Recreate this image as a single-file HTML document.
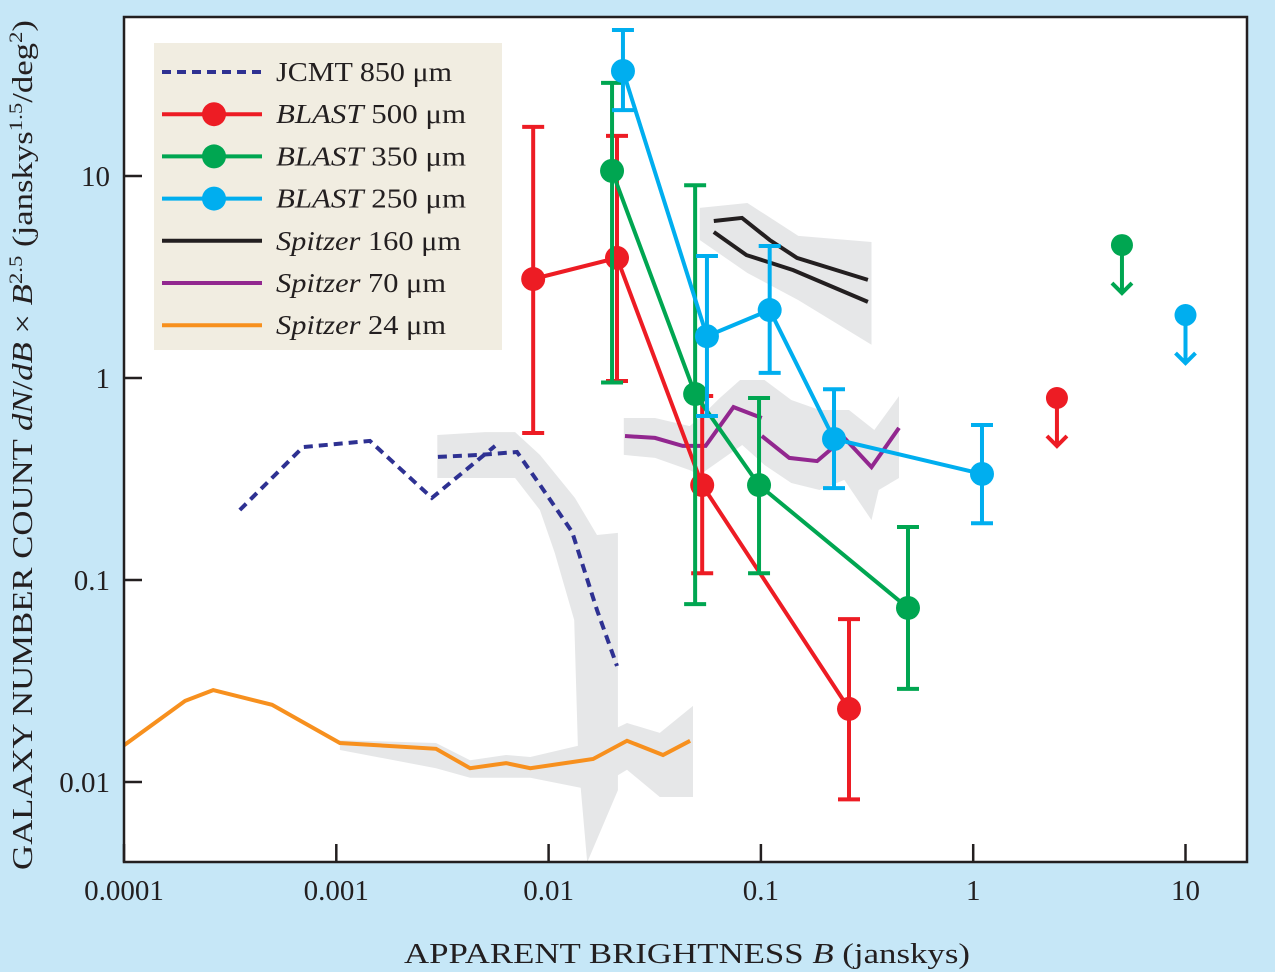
<!DOCTYPE html>
<html><head><meta charset="utf-8"><style>
html,body{margin:0;padding:0;background:#c6e7f7;}
svg{display:block;font-family:"Liberation Serif",serif;}
</style></head><body>
<svg id="chart" width="1275" height="972" viewBox="0 0 1275 972" xmlns="http://www.w3.org/2000/svg">
<rect x="0" y="0" width="1275" height="972" fill="#c6e7f7"/>
<rect x="124" y="17" width="1123" height="845" fill="#ffffff"/>
<g id="bands"></g><g id="lines"></g><g id="marks"></g>
<rect x="124" y="17" width="1123" height="845" fill="none" stroke="#231f20" stroke-width="2.5"/>
<g id="ticks"></g>
<g id="legend"></g>
<text x="404" y="963" font-size="29" textLength="566" lengthAdjust="spacingAndGlyphs" fill="#231f20">APPARENT BRIGHTNESS <tspan font-style="italic">B</tspan> (janskys)</text>
<text transform="translate(32,870) rotate(-90)" font-size="29" textLength="850" lengthAdjust="spacingAndGlyphs" fill="#231f20">GALAXY NUMBER COUNT <tspan font-style="italic">dN</tspan>/<tspan font-style="italic">dB</tspan> × <tspan font-style="italic">B</tspan><tspan dy="-10" font-size="19">2.5</tspan><tspan dy="10"> (janskys</tspan><tspan dy="-10" font-size="19">1.5</tspan><tspan dy="10">/deg</tspan><tspan dy="-10" font-size="19">2</tspan><tspan dy="10">)</tspan></text>
</svg>
<script>
const xTicks=[0.0001,0.001,0.01,0.1,1,10];
const xTickLabels=["0.0001","0.001","0.01","0.1","1","10"];
const yTicks=[0.01,0.1,1,10];
const yTickLabels=["0.01","0.1","1","10"];

const b500X=[0.00846,0.0210,0.0529,0.260];
const b500Y=[3.09,3.93,0.295,0.023];
const b500Hi=[17.5,15.8,0.814,0.064];
const b500Lo=[0.534,0.966,0.108,0.0082];
const b350X=[0.0199,0.049,0.098,0.493];
const b350Y=[10.6,0.833,0.295,0.0727];
const b350Hi=[28.9,9.0,0.796,0.183];
const b350Lo=[0.95,0.076,0.108,0.0289];
const b250X=[0.0224,0.0557,0.110,0.221,1.10];
const b250Y=[33.1,1.61,2.17,0.499,0.335];
const b250Hi=[52.8,4.02,4.5,0.88,0.585];
const b250Lo=[21.2,0.648,1.06,0.285,0.191];
const limitX=[2.48,5.02,10.0];
const limitY=[0.796,4.55,2.05];

const jcmtAX=[0.000351,0.000697,0.00144,0.00282,0.00560];
const jcmtAY=[0.222,0.455,0.488,0.255,0.461];
const jcmtBX=[0.00301,0.00475,0.00710,0.00912,0.0129,0.0169,0.0210];
const jcmtBY=[0.407,0.416,0.430,0.295,0.173,0.071,0.0375];
const s160AX=[0.060,0.0815,0.110,0.148,0.319];
const s160AY=[5.99,6.2,4.82,3.93,3.06];
const s160BX=[0.060,0.0855,0.142,0.319];
const s160BY=[5.28,4.06,3.42,2.38];
const s70AX=[0.0229,0.0317,0.0428,0.0549,0.0743,0.101];
const s70AY=[0.516,0.505,0.461,0.461,0.718,0.634];
const s70BX=[0.101,0.136,0.184,0.247,0.332,0.447];
const s70BY=[0.516,0.402,0.388,0.505,0.362,0.566];
const s24X=[0.0001,0.000194,0.000263,0.000498,0.00104,0.00295,0.00427,0.0063,0.0082,0.0162,0.0234,0.0346,0.0464];
const s24Y=[0.0152,0.0252,0.0285,0.0241,0.0156,0.0146,0.0117,0.0124,0.0117,0.0130,0.0160,0.0136,0.0160];

const bandJX=[0.00299,0.00501,0.00695,0.0091,0.0133,0.0169,0.0212,0.0212,0.0152,0.0138,0.0132,0.0107,0.0091,0.00695,0.00299];
const bandJY=[0.522,0.540,0.540,0.416,0.255,0.167,0.171,0.0091,0.0040,0.0128,0.0634,0.136,0.222,0.320,0.320];
const band24X=[0.00104,0.00295,0.00427,0.0063,0.0082,0.0141,0.0234,0.0334,0.0479,0.0479,0.0334,0.0234,0.0212,0.0162,0.0082,0.00427,0.00295,0.00104];
const band24Y=[0.0161,0.0156,0.0128,0.0136,0.0133,0.0152,0.0196,0.0175,0.0238,0.00843,0.00843,0.0115,0.0108,0.0091,0.0105,0.0105,0.0117,0.0144];
const band70X=[0.0226,0.0317,0.0462,0.0549,0.0640,0.0798,0.104,0.139,0.189,0.235,0.260,0.342,0.447,0.447,0.359,0.332,0.247,0.189,0.139,0.104,0.0816,0.0514,0.0462,0.0317,0.0226];
const band70Y=[0.634,0.634,0.578,0.679,0.796,0.977,0.977,0.778,0.694,0.694,0.694,0.553,0.814,0.320,0.279,0.198,0.313,0.279,0.302,0.371,0.466,0.331,0.350,0.402,0.416];
const band160X=[0.0515,0.0864,0.150,0.332,0.332,0.150,0.0864,0.0515];
const band160Y=[6.95,7.35,5.05,4.71,1.46,2.43,3.31,4.82];

const L=124,R=1247,T=17,B=862;
const xs=v=>L+(Math.log10(v)+4)*212.3;
const ys=v=>378-Math.log10(v)*202;
const NS="http://www.w3.org/2000/svg";
function mk(tag,parent,attrs){const e=document.createElementNS(NS,tag);for(const k in attrs)e.setAttribute(k,attrs[k]);document.getElementById(parent).appendChild(e);return e;}
function pts(X,Y){return X.map((x,i)=>xs(x).toFixed(1)+","+ys(Y[i]).toFixed(1)).join(" ");}

[[bandJX,bandJY,"jcmt-uncertainty-band"],[band24X,band24Y,"spitzer24-uncertainty-band"],[band70X,band70Y,"spitzer70-uncertainty-band"],[band160X,band160Y,"spitzer160-uncertainty-band"]].forEach(b=>{
 const p=mk("polygon","bands",{points:pts(b[0],b[1]),fill:"#e6e7e8"});
 
 
});

const lineDefs=[[jcmtAX,jcmtAY,"#2e3192","jcmt-850-line-a",true],[jcmtBX,jcmtBY,"#2e3192","jcmt-850-line-b",true],
[s160AX,s160AY,"#231f20","spitzer160-line-a"],[s160BX,s160BY,"#231f20","spitzer160-line-b"],
[s70AX,s70AY,"#92278f","spitzer70-line-a"],[s70BX,s70BY,"#92278f","spitzer70-line-b"],
[s24X,s24Y,"#f7901e","spitzer24-line"]];
lineDefs.forEach(d=>{
 const a={points:pts(d[0],d[1]),fill:"none",stroke:d[2],"stroke-width":4,"stroke-linejoin":"miter"};
 if(d[4])a["stroke-dasharray"]="9,6";
 const p=mk("polyline","lines",a);
 
 
});

const blast=[[b500X,b500Y,b500Hi,b500Lo,"#ed1c24","blast500"],[b350X,b350Y,b350Hi,b350Lo,"#00a651","blast350"],[b250X,b250Y,b250Hi,b250Lo,"#00aeef","blast250"]];
blast.forEach(s=>{
 const [X,Y,H,Lo,c,n]=s;
 X.forEach((x,i)=>{
  const cx=xs(x);
  const e=mk("path","marks",{d:`M${cx},${ys(H[i])}V${ys(Lo[i])}M${cx-11},${ys(H[i])}h22M${cx-11},${ys(Lo[i])}h22`,stroke:c,"stroke-width":4,fill:"none"});
  
  
 });
 const l=mk("polyline","marks",{points:pts(X,Y),fill:"none",stroke:c,"stroke-width":4});
 
 
 X.forEach((x,i)=>{
  const p=mk("circle","marks",{cx:xs(x),cy:ys(Y[i]),r:12,fill:c});
  
  
 });
});
const limColors=["#ed1c24","#00a651","#00aeef"];
limitX.forEach((x,i)=>{
 const cx=xs(x),cy=ys(limitY[i]);
 const a=mk("path","marks",{d:`M${cx},${cy}v48M${cx-10},${cy+38}l10,10l10,-10`,stroke:limColors[i],"stroke-width":4,fill:"none"});
 
 
 const p=mk("circle","marks",{cx:cx,cy:cy,r:11,fill:limColors[i]});
 
 
});

xTicks.forEach((v,i)=>{
 const x=xs(v);
 const t=mk("line","ticks",{x1:x,x2:x,y1:B,y2:B-18,stroke:"#231f20","stroke-width":2.5});
 
 
 const lb=mk("text","ticks",{x:x,y:900,"font-size":29,"text-anchor":"middle",fill:"#231f20"});
 lb.textContent=xTickLabels[i];
 
 
});
yTicks.forEach((v,i)=>{
 const y=ys(v);
 const t=mk("line","ticks",{x1:L,x2:L+18,y1:y,y2:y,stroke:"#231f20","stroke-width":2.5});
 
 
 const lb=mk("text","ticks",{x:110,y:y+10,"font-size":29,"text-anchor":"end",fill:"#231f20"});
 lb.textContent=yTickLabels[i];
 
 
});

const legNames=[["","JCMT"," 850 μm"],["","BLAST"," 500 μm"],["","BLAST"," 350 μm"],["","BLAST"," 250 μm"],["","Spitzer"," 160 μm"],["","Spitzer"," 70 μm"],["","Spitzer"," 24 μm"]];
const legWidths=[176,190,190,190,185,170,170];
const legColors=["#2e3192","#ed1c24","#00a651","#00aeef","#231f20","#92278f","#f7901e"];
const bg=mk("rect","legend",{x:154,y:43,width:348,height:307,fill:"#f1ede1"});


legNames.forEach((n,i)=>{
 const y=72+i*42.2;
 const a={x1:162,x2:262,y1:y,y2:y,stroke:legColors[i],"stroke-width":4};
 if(i===0)a["stroke-dasharray"]="9,6";
 const l=mk("line","legend",a);
 
 
 if(i>=1&&i<=3){const c=mk("circle","legend",{cx:214,cy:y,r:12,fill:legColors[i]});}
 const t=mk("text","legend",{x:276,y:y+9,"font-size":27,fill:"#231f20",textLength:legWidths[i],lengthAdjust:"spacingAndGlyphs"});
 
 
 const s1=document.createElementNS(NS,"tspan");
 if(i>0)s1.setAttribute("font-style","italic");
 s1.textContent=n[1];t.appendChild(s1);
 const s2=document.createElementNS(NS,"tspan");s2.textContent=n[2];t.appendChild(s2);
});
</script>
</body></html>
